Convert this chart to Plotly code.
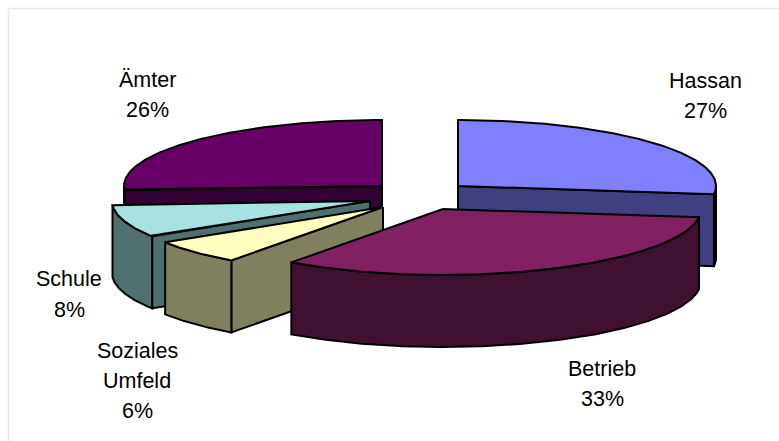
import math
import plotly.graph_objects as go

# Shares of each pie slice, clockwise from twelve o'clock
categories = ["Hassan", "Betrieb", "Soziales Umfeld", "Schule", "Ämter"]
shares = [27, 33, 6, 8, 26]
label_lines = [["Hassan", "27%"], ["Betrieb", "33%"], ["Soziales", "Umfeld", "6%"], ["Schule", "8%"], ["Ämter", "26%"]]

# Styling of each slice: upper surface and wall colours
top_colors = ["#8080FF", "#802060", "#FFFFC0", "#A6E2E2", "#660066"]
side_colors = ["#404080", "#401030", "#808060", "#507070", "#330033"]

# Geometry of the exploded 3D pie, in pixels of the page
RX, RY, DEPTH = 258, 66, 72
apex_x = [458, 443, 383, 370, 382]
apex_y = [186, 209, 207, 201, 186]
label_x = [705, 602, 137, 69, 147]
label_y = [[81, 111], [369, 399], [351, 381, 411], [279, 310], [80, 110]]
# Back slices first so that nearer ones paint over them
draw_order = [4, 0, 3, 2, 1]
FONT_SIZE = 21.5


def rim(i, deg):
    t = math.radians(deg)
    return apex_x[i] + RX * math.sin(t), apex_y[i] - RY * math.cos(t)


def arc(i, a0, a1):
    n = max(2, int(abs(a1 - a0)) * 2)
    return [rim(i, a0 + (a1 - a0) * k / n) for k in range(n + 1)]


def face(fig, points, color):
    xs = [p[0] for p in points] + [points[0][0]]
    ys = [p[1] for p in points] + [points[0][1]]
    fig.add_trace(go.Scatter(
        x=xs, y=ys, mode="lines", fill="toself", fillcolor=color,
        line=dict(color="black", width=2), hoverinfo="skip", showlegend=False,
    ))


def lowered(points):
    return [(x, y + DEPTH) for x, y in points]


fig = go.Figure()

bounds = []
running = 0
total = sum(shares)
for s in shares:
    bounds.append((running * 360 / total, (running + s) * 360 / total))
    running += s

for i in draw_order:
    a0, a1 = bounds[i]
    centre = (apex_x[i], apex_y[i])
    # Radial cut walls facing the viewer
    if 180 < a0 < 360:
        edge = [centre, rim(i, a0)]
        face(fig, edge + lowered(edge)[::-1], side_colors[i])
    if 0 < a1 < 180:
        edge = [centre, rim(i, a1)]
        face(fig, edge + lowered(edge)[::-1], side_colors[i])
    # Curved outer wall on the near half of the rim
    lo, hi = max(a0, 90), min(a1, 270)
    if lo < hi:
        curve = arc(i, lo, hi)
        face(fig, curve + lowered(curve)[::-1], side_colors[i])
    # Upper surface
    face(fig, [centre] + arc(i, a0, a1), top_colors[i])

for i, lines in enumerate(label_lines):
    for text, y in zip(lines, label_y[i]):
        fig.add_annotation(
            x=label_x[i], y=y, text=text, showarrow=False, xanchor="center", yanchor="middle",
            font=dict(family="Liberation Sans", size=FONT_SIZE, color="black"),
        )

fig.update_layout(
    width=779, height=441, autosize=False,
    margin=dict(l=0, r=0, t=0, b=0),
    paper_bgcolor="white", plot_bgcolor="white", showlegend=False,
    xaxis=dict(range=[0, 779], visible=False, fixedrange=True),
    yaxis=dict(range=[441, 0], visible=False, fixedrange=True),
    shapes=[
        dict(type="line", xref="paper", yref="paper", x0=8.5 / 779, x1=8.5 / 779, y0=0, y1=1 - 8.5 / 441,
             line=dict(color="#E8E8E8", width=1.5)),
        dict(type="line", xref="paper", yref="paper", x0=8.5 / 779, x1=1, y0=1 - 8.5 / 441, y1=1 - 8.5 / 441,
             line=dict(color="#E8E8E8", width=1.5)),
    ],
)

fig.write_html("out.html", config={"displayModeBar": False})
